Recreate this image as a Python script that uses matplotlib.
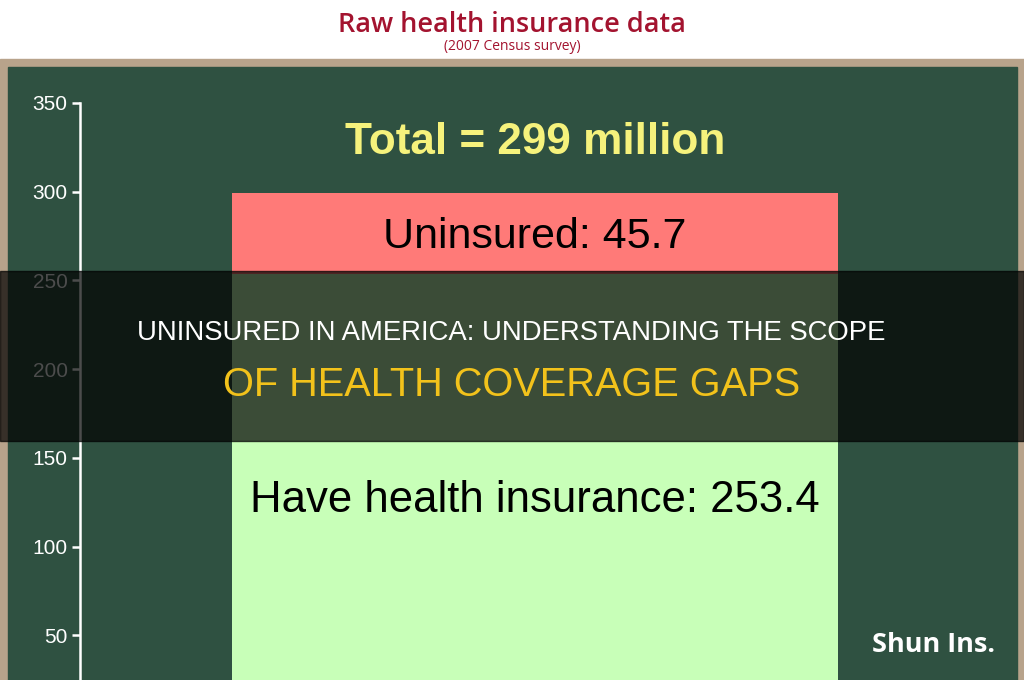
import numpy as np
import matplotlib.pyplot as plt
from matplotlib.patches import Rectangle

# data (millions, 2007 Census survey)
labels = ["Have health insurance", "Uninsured"]
values = [253.4, 45.7]
colors = ["#c8ffb8", "#ff7a78"]
label_y = [126, 274.5]
total = 299
yticks = [50, 100, 150, 200, 250, 300, 350]

plt.rcParams['font.family'] = ["Liberation Sans", "DejaVu Sans"]

W, H = 1024, 680
fig = plt.figure(figsize=(W / 100, H / 100), dpi=100, facecolor="white")

def px(x0, y0, x1, y1):
    # rectangle in pixel coords (top-left origin) -> figure fraction
    return (x0 / W, 1 - y1 / H), (x1 - x0) / W, (y1 - y0) / H

# tan frame and green board
xy, w, h = px(0, 59, W, H)
fig.add_artist(Rectangle(xy, w, h, transform=fig.transFigure, color="#b8a38b", zorder=-2))
xy, w, h = px(8, 67, 1017, H)
fig.add_artist(Rectangle(xy, w, h, transform=fig.transFigure, color="#2f5141", zorder=-1))

fig.text(0.5, 1 - 25 / H, "Raw health insurance data", ha="center", va="center",
         fontsize=19.5, fontweight="semibold", color="#a3132f", family=["Open Sans", "DejaVu Sans"])
fig.text(0.5, 1 - 46 / H, "(2007 Census survey)", ha="center", va="center",
         fontsize=10, color="#a3132f", family=["Open Sans", "DejaVu Sans"])

ax = fig.add_axes([80 / W, -44 / H, 937 / W, 621 / H])
ax.patch.set_alpha(0)
ax.set_xlim(-0.6, 0.636)
ax.set_ylim(0, 350)

bottom = 0
for v, c in zip(values, colors):
    ax.bar(0, v, width=0.8, bottom=bottom, color=c, zorder=2)
    bottom += v

ax.text(0, label_y[0], "%s: %.1f" % (labels[0], values[0]), ha="center", va="center",
        fontsize=31.5, color="black", zorder=3)
ax.text(0, label_y[1], "%s: %.1f" % (labels[1], values[1]), ha="center", va="center",
        fontsize=31, color="black", zorder=3)
ax.text(0, 328, "Total = %d million" % total, ha="center", va="center",
        fontsize=31.8, fontweight="bold", color="#f6f27c", zorder=3)

for s in ["top", "right", "bottom"]:
    ax.spines[s].set_visible(False)
ax.spines["left"].set_color("white")
ax.spines["left"].set_linewidth(1.8)
ax.spines["left"].set_bounds(0, 350)
ax.set_xticks([])
ax.set_yticks(yticks)
ax.tick_params(axis="y", colors="white", labelsize=15, length=6, width=1.8, pad=3)

# dark caption band over the chart
xy, w, h = px(0, 271, W, 441)
fig.add_artist(Rectangle(xy, w, h, transform=fig.transFigure, color="black", alpha=0.7, zorder=5))
fig.text(511 / W, 1 - 333 / H, "UNINSURED IN AMERICA: UNDERSTANDING THE SCOPE", ha="center", va="center",
         fontsize=19.8, color="white", zorder=6)
fig.text(512 / W, 1 - 385 / H, "OF HEALTH COVERAGE GAPS", ha="center", va="center",
         fontsize=28.6, color="#f2c21b", zorder=6)

fig.text(934 / W, 1 - 645 / H, "Shun Ins.", ha="center", va="center",
         fontsize=19.5, fontweight="bold", color="white", family=["Open Sans", "DejaVu Sans"], zorder=6)

fig.savefig("out.png", dpi=100)
